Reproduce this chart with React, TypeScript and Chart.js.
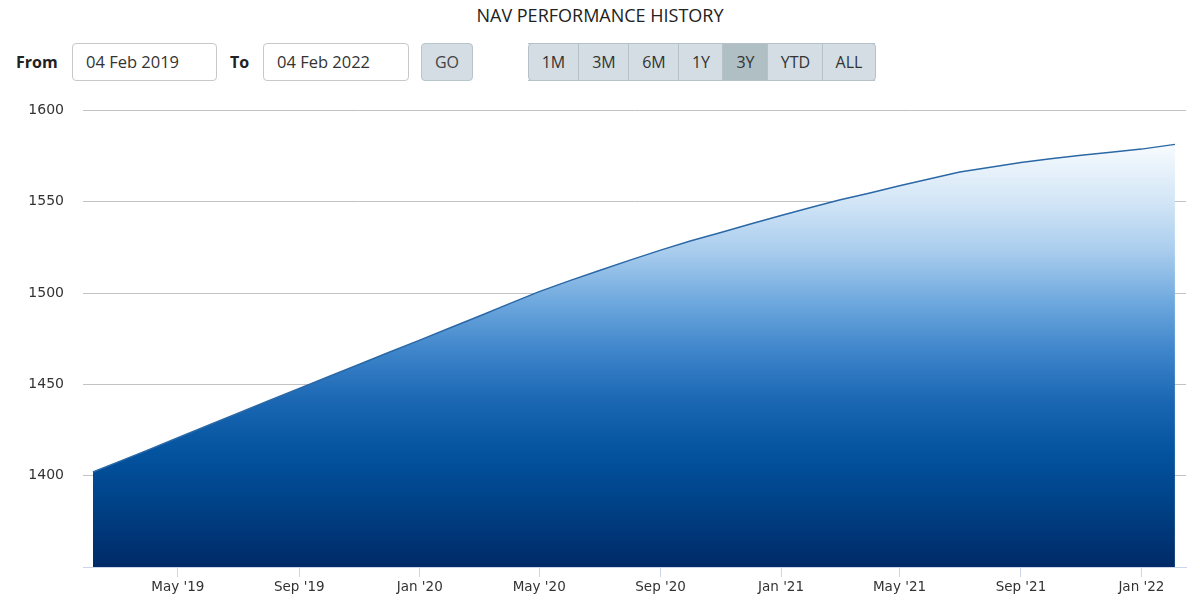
import React, { useEffect, useRef } from "react";
import { Chart, registerables } from "chart.js";

Chart.register(...registerables);

// NAV series (dates and values)
const navDates = [
  "2019-02-04", "2019-03-01", "2019-04-01", "2019-05-01", "2019-06-01", "2019-07-01",
  "2019-08-01", "2019-09-01", "2019-10-01", "2019-11-01", "2019-12-01", "2020-01-01",
  "2020-02-01", "2020-03-01", "2020-04-01", "2020-05-01", "2020-06-01", "2020-07-01",
  "2020-08-01", "2020-09-01", "2020-10-01", "2020-11-01", "2020-12-01", "2021-01-01",
  "2021-02-01", "2021-03-01", "2021-04-01", "2021-05-01", "2021-06-01", "2021-07-01",
  "2021-08-01", "2021-09-01", "2021-10-01", "2021-11-01", "2021-12-01", "2022-01-01",
  "2022-02-04",
];
const navValues = [
  1402.0, 1407.4, 1414.1, 1420.8, 1427.6, 1434.2,
  1441.0, 1447.7, 1454.3, 1461.0, 1467.6, 1474.2,
  1481.0, 1487.3, 1494.2, 1500.8, 1506.8, 1512.3,
  1518.0, 1523.5, 1528.5, 1533.1, 1537.8, 1542.5,
  1547.0, 1550.9, 1554.8, 1558.8, 1562.6, 1566.3,
  1568.9, 1571.5, 1573.5, 1575.4, 1577.1, 1578.8,
  1581.4,
];

const xTickDates = [
  "2019-05-01", "2019-09-01", "2020-01-01", "2020-05-01", "2020-09-01",
  "2021-01-01", "2021-05-01", "2021-09-01", "2022-01-01",
];
const xTickLabels = [
  "May '19", "Sep '19", "Jan '20", "May '20", "Sep '20",
  "Jan '21", "May '21", "Sep '21", "Jan '22",
];
const yTickValues = [1400, 1450, 1500, 1550, 1600];
const yMin = 1350;
const yMax = 1600;

const rangeButtons = ["1M", "3M", "6M", "1Y", "3Y", "YTD", "ALL"];
const activeRange = "3Y";
const fromDate = "04 Feb 2019";
const toDate = "04 Feb 2022";

const toDay = (s: string) => {
  const [y, m, d] = s.split("-").map(Number);
  return Date.UTC(y, m - 1, d) / 86400000;
};

export default function App() {
  const canvasRef = useRef<HTMLCanvasElement | null>(null);

  useEffect(() => {
    if (!canvasRef.current) return;
    const startDay = toDay(navDates[0]);
    const endDay = toDay(navDates[navDates.length - 1]);
    const tickDays = xTickDates.map(toDay);

    const chart = new Chart(canvasRef.current, {
      type: "line",
      data: {
        datasets: [
          {
            data: navDates.map((d, i) => ({ x: toDay(d), y: navValues[i] })),
            borderColor: "#2b68a6",
            borderWidth: 1.5,
            pointRadius: 0,
            tension: 0,
            fill: "start",
            backgroundColor: (ctx: any) => {
              const area = ctx.chart.chartArea;
              if (!area) return "#1a66b3";
              const g = ctx.chart.ctx.createLinearGradient(0, area.top, 0, area.bottom);
              g.addColorStop(0.0, "#ffffff");
              g.addColorStop(0.08, "#f6fafe");
              g.addColorStop(0.2, "#d2e5f6");
              g.addColorStop(0.31, "#a8cced");
              g.addColorStop(0.42, "#6ea8de");
              g.addColorStop(0.53, "#3d84ca");
              g.addColorStop(0.64, "#1a66b2");
              g.addColorStop(0.75, "#03539f");
              g.addColorStop(0.86, "#004288");
              g.addColorStop(1.0, "#002a68");
              return g;
            },
          },
        ],
      },
      options: {
        animation: false,
        responsive: false,
        devicePixelRatio: 1,
        layout: { padding: { left: 0, right: 14, top: 13, bottom: 0 } },
        plugins: { legend: { display: false }, tooltip: { enabled: false } },
        scales: {
          x: {
            type: "linear",
            min: startDay - 10.1,
            max: endDay + 11.2,
            afterBuildTicks: (scale: any) => {
              scale.ticks = tickDays.map((v) => ({ value: v }));
            },
            afterFit: (scale: any) => {
              scale.height = 43;
            },
            ticks: {
              autoSkip: false,
              maxRotation: 0,
              padding: 2,
              color: "#333333",
              font: { family: "DejaVu Sans", size: 13.5 },
              callback: (value: any) => {
                const i = tickDays.indexOf(Number(value));
                return i >= 0 ? xTickLabels[i] : "";
              },
            },
            grid: {
              drawOnChartArea: false,
              drawTicks: true,
              tickLength: 10,
              color: "#ccd6eb",
            },
            border: { display: true, color: "#ccd6eb", width: 1 },
          },
          y: {
            min: yMin,
            max: yMax,
            afterBuildTicks: (scale: any) => {
              scale.ticks = yTickValues.map((v) => ({ value: v }));
            },
            afterFit: (scale: any) => {
              scale.width = 83;
            },
            ticks: {
              padding: 19,
              color: "#333333",
              font: { family: "DejaVu Sans", size: 14 },
              callback: (value: any) => String(value),
            },
            grid: { drawTicks: false, color: "#c2c2c2", lineWidth: 1 },
            border: { display: false },
          },
        },
      },
    } as any);
    return () => chart.destroy();
  }, []);

  const font = "'Open Sans', 'Noto Sans', sans-serif";
  const inputStyle = (left: number, width: number): React.CSSProperties => ({
    position: "absolute",
    left,
    top: 43,
    width,
    height: 38,
    boxSizing: "border-box",
    border: "1px solid #c8c8c8",
    borderRadius: 4,
    background: "#fff",
    fontSize: 16.5,
    color: "#333",
    lineHeight: "36px",
    paddingLeft: 13,
  });

  const btnWidths = [50, 50, 50, 44, 45, 55, 53];
  let acc = 528;
  const btnLefts = btnWidths.map((w) => {
    const l = acc;
    acc += w;
    return l;
  });

  return (
    <div
      style={{
        position: "absolute",
        left: 0,
        top: 0,
        width: 1200,
        height: 610,
        background: "#fff",
        fontFamily: font,
        overflow: "hidden",
      }}
    >
      <div
        style={{
          position: "absolute",
          left: 0,
          top: 2,
          width: 1200,
          textAlign: "center",
          fontSize: 18,
          color: "#222",
          lineHeight: "26px",
        }}
      >
        NAV PERFORMANCE HISTORY
      </div>
      <div style={{ position: "absolute", left: 16, top: 50, fontSize: 16, fontWeight: 700, color: "#222", lineHeight: "24px" }}>
        From
      </div>
      <div style={inputStyle(72, 145)}>{fromDate}</div>
      <div style={{ position: "absolute", left: 230, top: 50, fontSize: 16, fontWeight: 700, color: "#222", lineHeight: "24px" }}>
        To
      </div>
      <div style={inputStyle(263, 146)}>{toDate}</div>
      <div
        style={{
          position: "absolute",
          left: 421,
          top: 43,
          width: 52,
          height: 38,
          boxSizing: "border-box",
          border: "1px solid #b9c5cc",
          borderRadius: 4,
          background: "#d3dde3",
          textAlign: "center",
          lineHeight: "36px",
          fontSize: 16,
          color: "#444",
        }}
      >
        GO
      </div>
      <div
        style={{
          position: "absolute",
          left: 528,
          top: 43,
          width: 348,
          height: 38,
          boxSizing: "border-box",
          border: "1px solid #b6c2c9",
          borderRadius: 4,
          background: "#d3dde3",
          overflow: "hidden",
        }}
      />
      {rangeButtons.map((b, i) => (
        <div
          key={b}
          style={{
            position: "absolute",
            left: btnLefts[i],
            top: 43,
            width: btnWidths[i] + (i === rangeButtons.length - 1 ? 0 : 1),
            height: 38,
            boxSizing: "border-box",
            borderLeft: i === 0 ? "none" : "1px solid #b6c2c9",
            borderTop: "1px solid #b6c2c9",
            borderBottom: "1px solid #b6c2c9",
            background: b === activeRange ? "#afbfc4" : "transparent",
            textAlign: "center",
            lineHeight: "36px",
            fontSize: 16,
            color: "#333",
          }}
        >
          {b}
        </div>
      ))}
      <div style={{ position: "absolute", left: 0, top: 83, width: 1200, height: 527 }}>
        <canvas ref={canvasRef} width={1200} height={527} style={{ width: 1200, height: 527, display: "block" }} />
      </div>
    </div>
  );
}
